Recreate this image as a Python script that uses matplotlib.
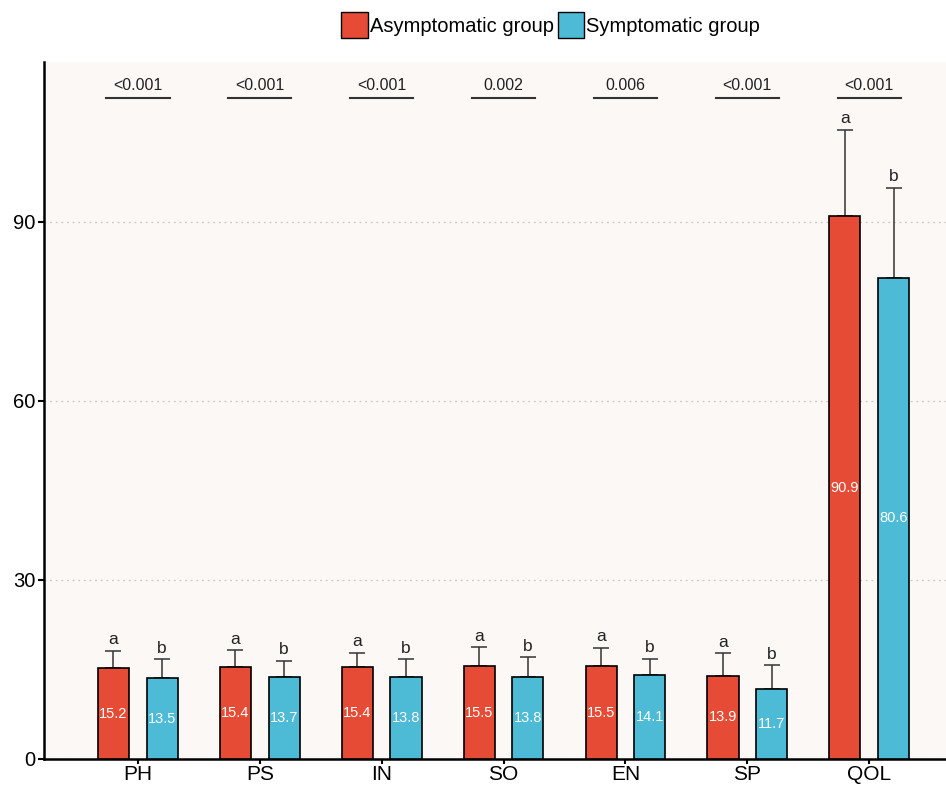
import numpy as np
import matplotlib
matplotlib.use("Agg")
import matplotlib.pyplot as plt
from matplotlib.patches import Patch

plt.rcParams['font.family'] = ['Liberation Sans', 'DejaVu Sans']

# data
domains = ["PH", "PS", "IN", "SO", "EN", "SP", "QOL"]
asym_mean = [15.2, 15.4, 15.4, 15.5, 15.5, 13.9, 90.9]
asym_sd = [2.9, 2.8, 2.4, 3.2, 3.1, 3.8, 14.5]
sym_mean = [13.5, 13.7, 13.8, 13.8, 14.1, 11.7, 80.6]
sym_sd = [3.2, 2.7, 2.9, 3.2, 2.7, 4.0, 15.1]
p_values = ["<0.001", "<0.001", "<0.001", "0.002", "0.006", "<0.001", "<0.001"]
group_names = ["Asymptomatic group", "Symptomatic group"]

red = "#E64B35"
blue = "#4DBBD5"

fig = plt.figure(figsize=(9.46, 7.87), dpi=100)
ax = fig.add_axes([0.0465, 0.0356, 0.96, 0.886])
ax.set_facecolor("#FCF8F5")

x = np.arange(len(domains))
off = 0.2
w = 0.255

ax.bar(x - off, asym_mean, w, color=red, edgecolor="black", linewidth=1.2, zorder=3)
ax.bar(x + off, sym_mean, w, color=blue, edgecolor="black", linewidth=1.2, zorder=3)
ax.errorbar(x - off, asym_mean, yerr=[np.zeros(len(x)), asym_sd], fmt="none",
            ecolor="#333333", elinewidth=1.1, capsize=6, capthick=1.1, zorder=2)
ax.errorbar(x + off, sym_mean, yerr=[np.zeros(len(x)), sym_sd], fmt="none",
            ecolor="#333333", elinewidth=1.1, capsize=6, capthick=1.1, zorder=2)

for i in range(len(x)):
    # values inside bars
    ax.text(x[i] - off, asym_mean[i] / 2, f"{asym_mean[i]:.1f}", ha="center", va="center",
            color="white", fontsize=10.5, zorder=4)
    ax.text(x[i] + off, sym_mean[i] / 2, f"{sym_mean[i]:.1f}", ha="center", va="center",
            color="white", fontsize=10.5, zorder=4)
    # letters above error bars
    ax.text(x[i] - off, asym_mean[i] + asym_sd[i] + 0.6, "a", ha="center", va="bottom",
            fontsize=12.5, color="#222222")
    ax.text(x[i] + off, sym_mean[i] + sym_sd[i] + 0.6, "b", ha="center", va="bottom",
            fontsize=12.5, color="#222222")
    # p-value brackets
    ax.plot([x[i] - 0.26, x[i] + 0.26], [110.8, 110.8], color="#333333", lw=1.5)
    ax.text(x[i], 111.6, p_values[i], ha="center", va="bottom", fontsize=11.5, color="#222222")

ax.set_xlim(-0.77, 6.68)
ax.set_ylim(0, 116.8)
ax.set_yticks([0, 30, 60, 90])
ax.set_xticks(x)
ax.set_xticklabels(domains, fontsize=15)
ax.tick_params(axis="y", labelsize=14.5, length=4, width=1.5, pad=2)
ax.tick_params(axis="x", length=3.5, width=1.5, pad=0.5)
ax.yaxis.grid(True, linestyle=(0, (1.5, 3)), color="#C8C8C8", linewidth=0.9, zorder=0)
ax.set_axisbelow(True)

for s in ["top", "right"]:
    ax.spines[s].set_visible(False)
ax.spines["left"].set_linewidth(1.8)
ax.spines["bottom"].set_linewidth(1.8)

handles = [Patch(facecolor=red, edgecolor="black", label=group_names[0]),
           Patch(facecolor=blue, edgecolor="black", label=group_names[1])]
fig.legend(handles=handles, loc="center", bbox_to_anchor=(0.582, 0.968), ncol=2,
           frameon=False, fontsize=14.5, handlelength=1.3, handleheight=1.6,
           handletextpad=0.1, columnspacing=0.2)

fig.savefig("out.png", dpi=100)
